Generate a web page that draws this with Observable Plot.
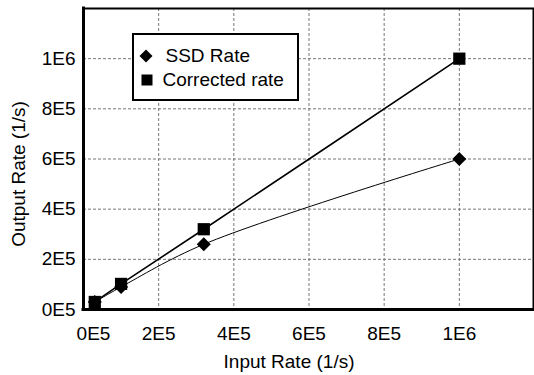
<!DOCTYPE html>
<html><head><meta charset="utf-8">
<script src="https://cdn.jsdelivr.net/npm/d3@7"></script>
<script src="https://cdn.jsdelivr.net/npm/@observablehq/plot@0.6"></script>
<style>
body{margin:0;background:#fff;}
#wrap{position:relative;width:534px;height:375px;font-family:"Liberation Sans",Arial,sans-serif;}
#legend{position:absolute;left:132px;top:33px;width:167px;height:68px;box-sizing:border-box;border:2.5px solid #000;background:#fff;font-size:19px;color:#000;}
#legend .item{position:absolute;left:0;height:22px;width:160px;}
#legend svg{position:absolute;left:0;top:0;}
#legend span{position:absolute;top:0;line-height:22px;white-space:nowrap;}
</style></head><body><div id="wrap"></div>
<script>
const inputRate = [3e4, 1e5, 3.2e5, 1e6];
const ssdRate = [3e4, 0.9e5, 2.6e5, 6e5];
const correctedRate = [3e4, 1.02e5, 3.2e5, 1e6];
const seriesNames = ["SSD Rate", "Corrected rate"];
const tickValues = [0, 2e5, 4e5, 6e5, 8e5, 1e6];
const tickLabels = ["0E5", "2E5", "4E5", "6E5", "8E5", "1E6"];
const xTitle = "Input Rate (1/s)";
const yTitle = "Output Rate (1/s)";

const ssd = inputRate.map((x, i) => ({x, y: ssdRate[i]}));
const corr = inputRate.map((x, i) => ({x, y: correctedRate[i]}));
const ticks = tickValues.map((v, i) => ({v, label: tickLabels[i]}));
const gridTicks = ticks.filter(d => d.v > 0);
const maxV = 1.2e6;
const FS = 19;

const chart = Plot.plot({
  width: 534, height: 375,
  marginLeft: 83, marginRight: 0, marginTop: 8, marginBottom: 66,
  x: {domain: [0, maxV], axis: null},
  y: {domain: [0, maxV], axis: null},
  style: {fontFamily: '"Liberation Sans", Arial, sans-serif', fontSize: "19px", background: "#fff", color: "#000"},
  marks: [
    Plot.ruleX(gridTicks, {x: "v", stroke: "#777", strokeDasharray: "3,2", strokeWidth: 1}),
    Plot.ruleY(gridTicks, {y: "v", stroke: "#777", strokeDasharray: "3,2", strokeWidth: 1}),
    Plot.ruleY([maxV], {stroke: "#000", strokeWidth: 2}),
    Plot.ruleX([maxV], {stroke: "#000", strokeWidth: 2, dx: -1}),
    Plot.ruleX([0], {stroke: "#000", strokeWidth: 3, strokeLinecap: "square"}),
    Plot.ruleY([0], {stroke: "#000", strokeWidth: 3, strokeLinecap: "square"}),
    Plot.line(ssd, {x: "x", y: "y", curve: "catmull-rom", stroke: "#000", strokeWidth: 1}),
    Plot.line(corr, {x: "x", y: "y", curve: "catmull-rom", stroke: "#000", strokeWidth: 1.6}),
    Plot.dot(ssd, {x: "x", y: "y", symbol: "square", r: 5.6, rotate: 45, fill: "#000", stroke: "none"}),
    Plot.dot(corr, {x: "x", y: "y", symbol: "square", r: 6.9, fill: "#000", stroke: "none"}),
    Plot.text(ticks, {x: 0, y: "v", text: "label", textAnchor: "end", lineAnchor: "middle", dx: -8, fontSize: FS}),
    Plot.text(gridTicks, {x: "v", y: 0, text: "label", textAnchor: "middle", lineAnchor: "middle", dy: 24, fontSize: FS}),
    Plot.text(ticks.filter(d => d.v === 0), {x: "v", y: 0, text: "label", textAnchor: "middle", lineAnchor: "middle", dy: 24, dx: 10, fontSize: FS}),
    Plot.text([xTitle], {frameAnchor: "bottom", text: d => d, textAnchor: "middle", lineAnchor: "middle", dx: -20, dy: 52, fontSize: FS}),
    Plot.text([yTitle], {frameAnchor: "left", text: d => d, rotate: -90, textAnchor: "middle", lineAnchor: "middle", dx: -65, dy: 15, fontSize: FS})
  ]
});
const wrap = document.getElementById("wrap");
wrap.appendChild(chart);

const legend = document.createElement("div");
legend.id = "legend";
const symbols = [
  '<svg width="26" height="22"><polygon points="12,4.5 18.5,11 12,17.5 5.5,11" fill="#000"/></svg>',
  '<svg width="26" height="22"><rect x="7.5" y="5.5" width="11" height="11" fill="#000"/></svg>'
];
const textLeft = [31.5, 28.5];
const itemTop = [9.5, 34];
seriesNames.forEach((name, i) => {
  const item = document.createElement("div");
  item.className = "item";
  item.style.top = itemTop[i] + "px";
  item.innerHTML = symbols[i] + '<span style="left:' + textLeft[i] + 'px">' + name + "</span>";
  legend.appendChild(item);
});
wrap.appendChild(legend);
</script>
</body></html>
